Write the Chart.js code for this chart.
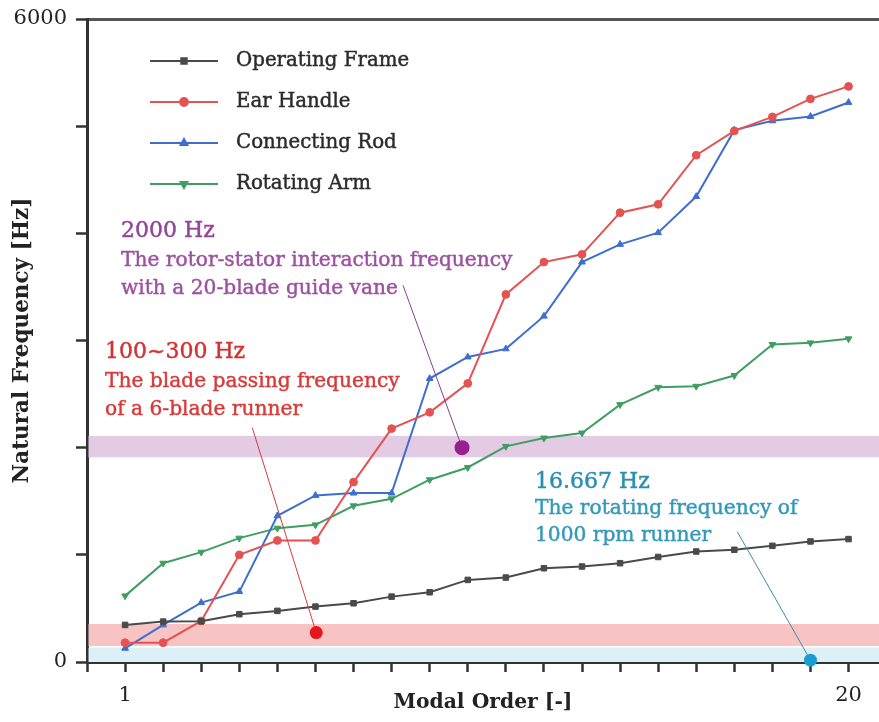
<!DOCTYPE html>
<html>
<head>
<meta charset="utf-8">
<script src="https://cdn.jsdelivr.net/npm/chart.js@4.4.1/dist/chart.umd.min.js"></script>
<style>
  html, body { margin: 0; padding: 0; background: #ffffff; }
  #c { display: block; }
</style>
</head>
<body>
<canvas id="c" width="879" height="722"></canvas>
<script>
// Modal order (x) and natural frequencies in Hz for each component
const modalOrder     = [1, 2, 3, 4, 5, 6, 7, 8, 9, 10, 11, 12, 13, 14, 15, 16, 17, 18, 19, 20];
const operatingFrame = [346, 377, 380, 446, 477, 517, 548, 610, 651, 766, 788, 875, 891, 922, 980, 1031, 1047, 1084, 1125, 1147];
const earHandle      = [180, 180, 383, 1000, 1134, 1134, 1679, 2178, 2330, 2600, 3430, 3732, 3804, 4193, 4271, 4729, 4956, 5087, 5255, 5371];
const connectingRod  = [128, 346, 554, 657, 1364, 1554, 1576, 1576, 2645, 2846, 2922, 3227, 3732, 3897, 4006, 4343, 4963, 5050, 5090, 5221];
const rotatingArm    = [617, 922, 1025, 1156, 1249, 1280, 1458, 1523, 1701, 1815, 2012, 2090, 2137, 2402, 2563, 2573, 2673, 2963, 2978, 3016];

const seriesNames = ['Operating Frame', 'Ear Handle', 'Connecting Rod', 'Rotating Arm'];

// Tick positions and the labels that are printed
const xTickValues = [0, 1, 2, 3, 4, 5, 6, 7, 8, 9, 10, 11, 12, 13, 14, 15, 16, 17, 18, 19, 20];
const xTickLabels = [1, 20];
const yTickLabels = [0, 6000];

// Excitation frequency bands [low, high] in Hz
const bandRotating    = [0, 135];
const bandBladePass   = [150, 355];
const bandRotorStator = [1910, 2110];

// Marked excitation points [modal order, Hz]
const pointRotorStator = [9.85, 2000];
const pointBladePass   = [6.02, 275];
const pointRotating    = [19.0, 16.667];

// Annotation wording
const textRotorStator = ['2000 Hz', 'The rotor-stator interaction frequency', 'with a 20-blade guide vane'];
const textBladePass   = ['100~300 Hz', 'The blade passing frequency', 'of a 6-blade runner'];
const textRotating    = ['16.667 Hz', 'The rotating frequency of', '1000 rpm runner'];

const SERIF = '"DejaVu Serif", "Liberation Serif", serif';

function toPoints(values) {
  return modalOrder.map((x, i) => ({ x: x, y: values[i] }));
}

// slightly heavier text: fill plus a hairline stroke in the same colour
function heavyText(ctx, text, x, y, color) {
  ctx.fillStyle = color;
  ctx.strokeStyle = color;
  ctx.lineWidth = 0.45;
  ctx.fillText(text, x, y);
  ctx.strokeText(text, x, y);
}

// Shaded frequency bands behind the curves
const bandsPlugin = {
  id: 'bands',
  beforeDatasetsDraw(chart) {
    const { ctx, chartArea, scales } = chart;
    const y = scales.y;
    const bands = [
      [bandRotating, '#ddf0f8'],
      [bandBladePass, '#f7c3c3'],
      [bandRotorStator, '#e4cbe4']
    ];
    ctx.save();
    bands.forEach(([range, color]) => {
      const top = y.getPixelForValue(range[1]);
      const bottom = y.getPixelForValue(range[0]);
      ctx.fillStyle = color;
      ctx.fillRect(chartArea.left + 1.5, top, chartArea.right - chartArea.left, bottom - top);
    });
    ctx.restore();
  }
};

// Leader lines, marked points, annotation text and the legend box
const notesPlugin = {
  id: 'notes',
  afterDatasetsDraw(chart) {
    const { ctx, scales } = chart;
    const sx = scales.x, sy = scales.y;
    const px = v => sx.getPixelForValue(v);
    const py = v => sy.getPixelForValue(v);

    const leaders = [
      { from: [8.3, 3514], to: pointRotorStator, line: '#8e3c8e', dot: '#9a1f8e', r: 7.5 },
      { from: [4.34, 2187], to: pointBladePass, line: '#d43c3c', dot: '#e8161c', r: 6.5 },
      { from: [17.08, 1215], to: pointRotating, line: '#3a8eae', dot: '#1a9ed2', r: 6.5 }
    ];
    ctx.save();
    leaders.forEach(l => {
      ctx.strokeStyle = l.line;
      ctx.lineWidth = 1;
      ctx.beginPath();
      ctx.moveTo(px(l.from[0]), py(l.from[1]));
      ctx.lineTo(px(l.to[0]), py(l.to[1]));
      ctx.stroke();
      ctx.fillStyle = l.dot;
      ctx.beginPath();
      ctx.arc(px(l.to[0]), py(l.to[1]), l.r, 0, Math.PI * 2);
      ctx.fill();
    });

    // annotation blocks: heading then two body lines
    const blocks = [
      { lines: textRotorStator, x: 121, base: [237, 266, 294], head: '#93449a', body: '#9c52a0' },
      { lines: textBladePass,   x: 105, base: [358, 387, 415], head: '#d43232', body: '#d83a3a' },
      { lines: textRotating,    x: 535, base: [488, 514, 541], head: '#2a8fb0', body: '#3399bb' }
    ];
    ctx.textAlign = 'left';
    ctx.textBaseline = 'alphabetic';
    blocks.forEach(b => {
      b.lines.forEach((t, i) => {
        ctx.font = (i === 0 ? '22px ' : '20.2px ') + SERIF;
        heavyText(ctx, t, b.x, b.base[i], i === 0 ? b.head : b.body);
      });
    });

    // legend: line sample with marker, then the series name
    const lx0 = 150, lx1 = 218, tx = 236, y0 = 61, dy = 41;
    chart.data.datasets.forEach((ds, i) => {
      const y = y0 + i * dy;
      ctx.strokeStyle = ds.borderColor;
      ctx.lineWidth = 2;
      ctx.beginPath();
      ctx.moveTo(lx0, y);
      ctx.lineTo(lx1, y);
      ctx.stroke();
      ctx.fillStyle = ds.borderColor;
      ctx.strokeStyle = ds.borderColor;
      Chart.helpers.drawPoint(ctx, {
        pointStyle: ds.pointStyle,
        radius: ds.pointRadius,
        rotation: ds.pointRotation || 0,
        borderWidth: 1
      }, (lx0 + lx1) / 2, y);
      ctx.font = '19.8px ' + SERIF;
      ctx.textBaseline = 'middle';
      heavyText(ctx, ds.label, tx, y, '#2b2b2b');
    });
    ctx.restore();
  }
};

function series(i, values, color, style, rotation) {
  return {
    label: seriesNames[i],
    data: toPoints(values),
    borderColor: color,
    backgroundColor: color,
    pointBackgroundColor: color,
    pointBorderColor: color,
    borderWidth: 2,
    pointStyle: style,
    pointRadius: 3.9,
    pointRotation: rotation || 0,
    pointBorderWidth: 1,
    tension: 0
  };
}

new Chart(document.getElementById('c'), {
  type: 'line',
  data: {
    datasets: [
      series(0, operatingFrame, '#4a4a4a', 'rect'),
      series(1, earHandle, '#e45252', 'circle'),
      series(2, connectingRod, '#3e6fcf', 'triangle'),
      series(3, rotatingArm, '#3f9e62', 'triangle', 180)
    ]
  },
  options: {
    responsive: false,
    animation: false,
    devicePixelRatio: 1,
    // the plot runs out to the right-hand edge of the canvas
    layout: { autoPadding: false, padding: { top: 19, right: 0, left: 0, bottom: 0 } },
    plugins: {
      legend: { display: false },
      tooltip: { enabled: false }
    },
    scales: {
      x: {
        type: 'linear',
        min: 0,
        max: 20.8,
        afterBuildTicks: s => { s.ticks = xTickValues.map(v => ({ value: v })); },
        afterFit: s => { s.height = 60; s.paddingLeft = 0; s.paddingRight = 0; },
        border: { color: '#333333', width: 3 },
        grid: { drawOnChartArea: false, drawTicks: true, tickLength: 10, tickWidth: 2.5, tickColor: '#333333' },
        ticks: {
          autoSkip: false,
          maxRotation: 0,
          padding: 11,
          color: '#222222',
          font: { family: SERIF, size: 21 },
          callback: v => xTickLabels.includes(v) ? String(v) : ''
        },
        title: {
          display: true,
          text: 'Modal Order [-]',
          color: '#222222',
          font: { family: SERIF, size: 20.3, weight: 'bold' },
          padding: { top: 0, bottom: 7 }
        }
      },
      y: {
        type: 'linear',
        min: 0,
        max: 6000,
        afterFit: s => { s.width = 87; s.paddingTop = 0; s.paddingBottom = 0; },
        border: { color: '#333333', width: 3 },
        grid: {
          drawOnChartArea: true,
          color: c => (c.tick && c.tick.value === 6000) ? '#555555' : 'rgba(0,0,0,0)',
          lineWidth: c => (c.tick && c.tick.value === 6000) ? 3 : 1,
          drawTicks: true,
          tickLength: 11,
          tickWidth: 2.5,
          tickColor: '#333333'
        },
        ticks: {
          stepSize: 1000,
          autoSkip: false,
          padding: 9,
          color: '#222222',
          font: { family: SERIF, size: 21 },
          callback: v => yTickLabels.includes(v) ? String(v) : ''
        },
        title: {
          display: true,
          text: 'Natural Frequency [Hz]',
          color: '#222222',
          font: { family: SERIF, size: 21.5, weight: 'bold' },
          padding: { top: 10, bottom: 0 }
        }
      }
    }
  },
  plugins: [bandsPlugin, notesPlugin]
});
</script>
</body>
</html>
